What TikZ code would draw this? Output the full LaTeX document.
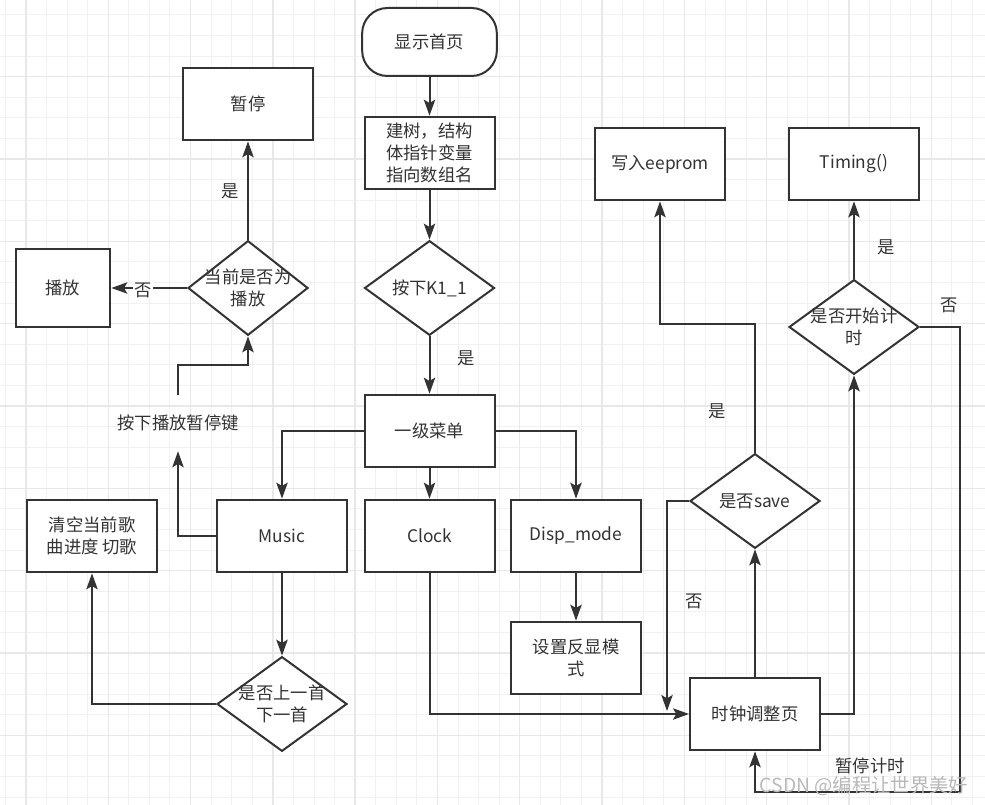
\documentclass[tikz,border=0pt]{standalone}
\usepackage{fontspec}
\setmainfont{Noto Sans CJK SC}
\usetikzlibrary{arrows.meta,shapes.geometric}
\definecolor{ink}{HTML}{333333}
\definecolor{gminor}{HTML}{F1F1F1}
\definecolor{gmajor}{HTML}{E8E8E8}
\begin{document}
\begin{tikzpicture}[x=0.75pt,y=-0.75pt,
  font=\fontsize{13pt}{16.5pt}\selectfont,
  box/.style={draw=ink, line width=1.5pt, fill=white, minimum width=97.5pt, minimum height=54.5pt, align=center, inner sep=2pt, text=ink},
  dia/.style={diamond, draw=ink, line width=1.5pt, fill=white, minimum width=97.5pt, minimum height=71pt, inner sep=0pt},
  dtext/.style={align=center, text=ink, inner sep=0pt},
  conn/.style={draw=ink, line width=1.5pt, -{Stealth[length=12pt,width=8.5pt,inset=2.5pt]}},
  lbl/.style={text=ink, inner sep=1pt}]
\useasboundingbox (0,0) rectangle (985,805);
\fill[white] (0,0) rectangle (985,805);
% grid
\foreach \k in {0,...,47} \draw[gminor, line width=0.75pt] ({5.3+20.58*\k},0) -- ({5.3+20.58*\k},805);
\foreach \k in {0,...,38} \draw[gminor, line width=0.75pt] (0,{15+20.58*\k}) -- (985,{15+20.58*\k});
\foreach \k in {1,5,...,45} \draw[gmajor, line width=1pt] ({5.3+20.58*\k},0) -- ({5.3+20.58*\k},805);
\foreach \k in {3,7,...,35} \draw[gmajor, line width=1pt] (0,{15+20.58*\k}) -- (985,{15+20.58*\k});

% nodes
\node[box, rounded corners=19pt, minimum width=101pt, minimum height=51pt] (start) at (429.5,42) {显示首页};
\node[box] (tree) at (429.5,153) {建树，结构\\体指针变量\\指向数组名};
\node[dia] (k11) at (429.5,288) {};
\node[dtext] (k11t) at (k11) {按下K1\_1};
\node[box] (menu) at (429.5,431) {一级菜单};
\node[box] (mus) at (282,536) {Music};
\node[box] (clk) at (429.5,536) {Clock};
\node[box] (disp) at (576,536) {Disp\_mode};
\node[box] (inv) at (576,658) {设置反显模\\式};
\node[box] (clr) at (92,536) {清空当前歌\\曲进度 切歌};
\node[dia] (prev) at (282,704) {};
\node[dtext] (prevt) at (prev) {是否上一首\\下一首};
\node[box, minimum width=71pt, minimum height=59pt] (play) at (63,288) {播放};
\node[dia, minimum width=90pt] (cur) at (248,288) {};
\node[dtext] (curt) at (cur) {当前是否为\\播放};
\node[box] (pause) at (248,104) {暂停};
\node[lbl, minimum height=42pt] (key) at (178,423) {按下播放暂停键};
\node[box] (adj) at (755,714) {时钟调整页};
\node[dia] (sv) at (755,501) {};
\node[dtext] (svt) at (sv) {是否save};
\node[box] (ee) at (660,164) {写入eeprom};
\node[box] (tim) at (854,164) {Timing()};
\node[dia] (tm) at (854,327) {};
\node[dtext] (tmt) at (tm) {是否开始计\\时};
\coordinate (nosave) at (667,711);
\coordinate (rc) at (960,792);

% connectors
\draw[conn] (start) -- (tree);
\draw[conn] (tree) -- (k11);
\draw[conn] (k11) -- (menu);
\draw[conn] (menu.west) -| (mus.north);
\draw[conn] (menu) -- (clk);
\draw[conn] (menu.east) -| (disp.north);
\draw[conn] (disp) -- (inv);
\draw[conn] (mus.west) -| (key.south);
\draw[conn] (key.north) -- ++(0,-30) -| (cur.south);
\draw[conn] (cur) -- (pause);
\draw[conn] (cur.west) -- (play.east);
\draw[conn] (mus) -- (prev);
\draw[conn] (prev.west) -| (clr.south);
\draw[conn] (clk.south) |- (adj.west);
\draw[conn] (adj) -- (sv);
\draw[conn] (sv.north) -- ++(0,-129) -| (ee.south);
\draw[conn] (sv.west) -| (nosave);
\draw[conn] (adj.east) -| (tm.south);
\draw[conn] (tm) -- (tim);
\draw[conn] (tm.east) -| (rc) -| (adj.south);

% labels
\node[lbl] (l1) at (466,358) {是};
\node[lbl] (l2) at (230,191) {是};
\node[lbl, fill=white] (l3) at (143,290) {否};
\node[lbl] (l4) at (886,247) {是};
\node[lbl] (l5) at (949,305) {否};
\node[lbl] (l6) at (717,411) {是};
\node[lbl] (l7) at (694,601) {否};
\node[lbl] (l8) at (870,766) {暂停计时};
\node[text=gray!55, font=\fontsize{14.5pt}{17pt}\selectfont, inner sep=0pt] (wm) at (864,786) {CSDN @编程让世界美好};
\end{tikzpicture}
\end{document}
